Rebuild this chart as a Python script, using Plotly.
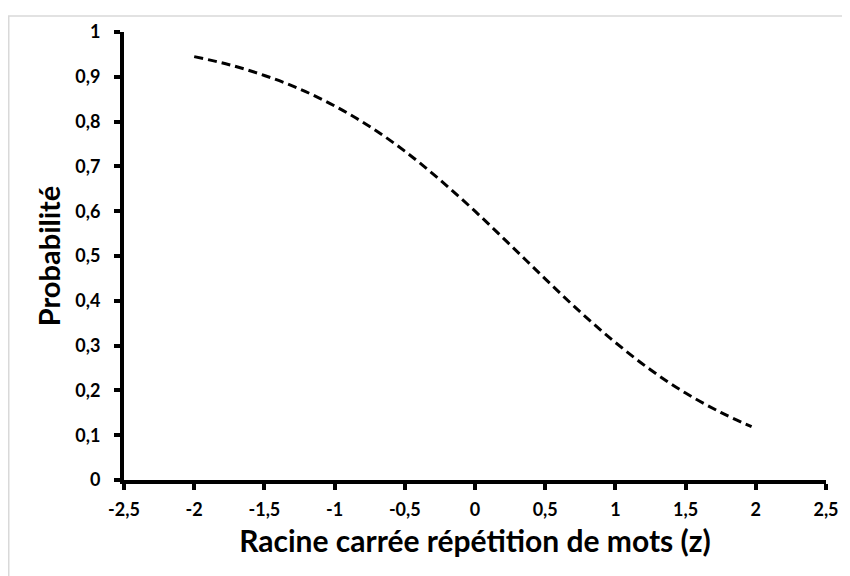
import plotly.graph_objects as go

# valeurs
z_vals = [-2.0, -1.75, -1.5, -1.25, -1.0, -0.75, -0.5, -0.25, 0.0,
          0.25, 0.5, 0.75, 1.0, 1.25, 1.5, 1.75, 1.97]
prob_vals = [0.945, 0.927, 0.903, 0.873, 0.835, 0.789, 0.734, 0.670, 0.600,
             0.525, 0.449, 0.375, 0.307, 0.246, 0.194, 0.151, 0.119]

x_ticks = [-2.5, -2, -1.5, -1, -0.5, 0, 0.5, 1, 1.5, 2, 2.5]
x_labels = ["-2,5", "-2", "-1,5", "-1", "-0,5", "0", "0,5", "1", "1,5", "2", "2,5"]
y_ticks = [0, 0.1, 0.2, 0.3, 0.4, 0.5, 0.6, 0.7, 0.8, 0.9, 1]
y_labels = ["0", "0,1", "0,2", "0,3", "0,4", "0,5", "0,6", "0,7", "0,8", "0,9", "1"]

font_family = "Lato, 'Open Sans', sans-serif"

fig = go.Figure(go.Scatter(
    x=z_vals, y=prob_vals, mode="lines",
    line=dict(color="black", width=3, dash="9px,5px", shape="spline"),
    hoverinfo="x+y", showlegend=False,
))

axis_common = dict(
    showgrid=False, zeroline=False,
    showline=True, linecolor="black", linewidth=4,
    ticks="outside", ticklen=6, tickwidth=4, tickcolor="black",
    tickfont=dict(family=font_family, size=18, color="black", weight="bold"),
)

# la page a une marge de 8px : zone de tracé 116..818 x 17..472
fig.update_layout(
    width=850, height=576,
    paper_bgcolor="white", plot_bgcolor="white",
    margin=dict(l=116, r=32, t=17, b=104),
    font=dict(family=font_family, color="black"),
    xaxis=dict(range=[-2.5, 2.5], tickvals=x_ticks,
               ticktext=["<b>%s</b>" % t for t in x_labels],
               ticklabelstandoff=4,
               title=dict(text="<b>Racine carrée répétition de mots (z)</b>",
                          font=dict(size=30, family=font_family), standoff=13),
               **axis_common),
    yaxis=dict(range=[0, 1], tickvals=y_ticks,
               ticktext=["<b>%s</b>" % t for t in y_labels],
               ticklabelstandoff=10,
               title=dict(text="<b>Probabilité</b>",
                          font=dict(size=29, family=font_family), standoff=7),
               **axis_common),
    shapes=[dict(type="rect", xref="paper", yref="paper",
                 x0=-115.25 / 702, x1=1.1, y0=-0.3, y1=1 + 16.25 / 455,
                 line=dict(color="#d9d9d9", width=1.5), layer="below")],
)

fig.write_html("out.html")
